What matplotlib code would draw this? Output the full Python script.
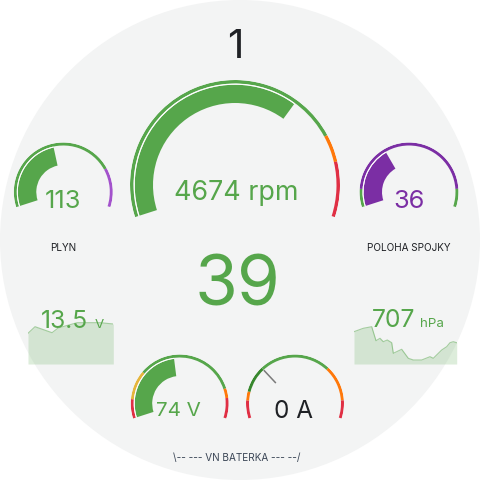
import numpy as np
import matplotlib
matplotlib.use("Agg")
import matplotlib.pyplot as plt
from matplotlib.patches import Circle

plt.rcParams['font.family'] = ['Inter', 'DejaVu Sans']

# ---------------- data ----------------
counter_value = "1"
speed_value = 39

rpm_value = 4674
rpm_min, rpm_max = 0, 7000
rpm_thresholds = [0, 5500, 6000]
rpm_colors = ['#56a64b', '#ff780a', '#e02f44']

plyn_value = 113
plyn_min, plyn_max = 0, 255
plyn_thresholds = [0, 200]
plyn_colors = ['#56a64b', '#a352cc']

spojka_value = 36
spojka_min, spojka_max = 0, 100
spojka_thresholds = [0, 10, 90]
spojka_colors = ['#56a64b', '#7b2ea4', '#56a64b']

volt_value = 74
volt_min, volt_max = 60, 90
volt_thresholds = [60, 63.2, 68.1, 85, 86.6]
volt_colors = ['#e02f44', '#e5b53b', '#56a64b', '#ff780a', '#e02f44']

amp_value = 0
amp_min, amp_max = -150, 350
amp_thresholds = [-150, -100, -75, 0, 200, 300]
amp_colors = ['#e02f44', '#ff780a', '#37872d', '#56a64b', '#ff780a', '#e02f44']

lv_value = "13.5"
lv_unit = "V"
lv_t = [0, 7, 24, 30, 49, 72, 85]
lv_v = [30.7, 37.3, 31.3, 36.0, 41.3, 41.3, 40.0]

press_value = "707"
press_unit = "hPa"
press_t = [0, 9.3, 17.7, 22, 26, 29.3, 33.3, 37.7, 39.3, 47.7, 54.3, 59.3,
           67.7, 76, 79.3, 87.7, 92.7, 96, 99.3, 102.7]
press_v = [32.3, 35.7, 37.3, 23.3, 25.7, 22.3, 24.0, 21.3, 10.7, 14.7, 5.7, 4.0,
           4.0, 7.3, 5.7, 14.0, 17.3, 21.3, 22.3, 21.3]

label_plyn = "PLYN"
label_spojka = "POLOHA SPOJKY"
label_bat = "\\-- --- VN BATERKA --- --/"

# ---------------- style ----------------
W = 480
BG = '#f3f4f4'
DARK = '#1f2125'
GREEN = '#56a64b'
START_DEG, END_DEG = 197.8, -17.8

fig = plt.figure(figsize=(4.8, 4.8), dpi=100)
fig.patch.set_facecolor('white')
base = fig.add_axes([0, 0, 1, 1])
base.set_xlim(0, W)
base.set_ylim(W, 0)
base.axis('off')
base.add_patch(Circle((240, 240), 240, facecolor=BG, edgecolor='none'))


def gauge(cx, cy, R, band_w, bar_in, bar_out, vmin, vmax, thresholds, colors,
          value, bar_color=None, needle=False):
    ax = fig.add_axes([(cx - R) / W, 1 - (cy + R) / W, 2 * R / W, 2 * R / W],
                      projection='polar')
    ax.set_ylim(0, R)
    ax.axis('off')
    ax.patch.set_visible(False)

    def th(v):
        f = (np.clip(v, vmin, vmax) - vmin) / (vmax - vmin)
        return np.deg2rad(START_DEG - f * (START_DEG - END_DEG))

    bounds = list(thresholds[1:]) + [vmax]
    for lo, hi, col in zip(thresholds, bounds, colors):
        lo = max(lo, vmin)
        hi = min(hi, vmax)
        if hi <= lo:
            continue
        ax.bar(th(hi), band_w, width=th(lo) - th(hi), bottom=R - band_w,
               align='edge', color=col, linewidth=0)
    if needle:
        t = th(value)
        ax.plot([t, t], [bar_in, bar_out], color='#7a7a7a', lw=1.1,
                solid_capstyle='butt')
    else:
        ax.bar(th(value), bar_out - bar_in, width=th(vmin) - th(value),
               bottom=bar_in, align='edge', color=bar_color, linewidth=0)
        ax.bar(th(value), 1.0, width=th(vmin) - th(value),
               bottom=bar_out, align='edge', color='white', linewidth=0)
    return ax


gauge(235, 185, 105, 3.5, 82, 100.3, rpm_min, rpm_max, rpm_thresholds,
      rpm_colors, rpm_value, bar_color=GREEN)
gauge(63.3, 192, 49.5, 3, 27, 45.5, plyn_min, plyn_max, plyn_thresholds,
      plyn_colors, plyn_value, bar_color=GREEN)
gauge(409, 192, 49.5, 3, 27, 45.5, spojka_min, spojka_max, spojka_thresholds,
      spojka_colors, spojka_value, bar_color='#7b2ea4')
gauge(179.7, 403.5, 49, 3, 27.5, 45, volt_min, volt_max, volt_thresholds,
      volt_colors, volt_value, bar_color=GREEN)
gauge(295, 403.5, 49, 3, 28, 45.6, amp_min, amp_max, amp_thresholds,
      amp_colors, amp_value, needle=True)


def spark(x0, x1, y0, y1, t, v):
    ax = fig.add_axes([x0 / W, 1 - y1 / W, (x1 - x0) / W, (y1 - y0) / W])
    ax.set_xlim(min(t), max(t))
    ax.set_ylim(0, y1 - y0)
    ax.axis('off')
    ax.patch.set_visible(False)
    ax.fill_between(t, v, 0, color=GREEN, alpha=0.2, linewidth=0)
    ax.plot(t, v, color=GREEN, alpha=0.5, lw=0.8)


spark(28, 113.3, 300, 364, lv_t, lv_v)
spark(354, 456.7, 300, 364, press_t, press_v)

# texts
base.text(235, 57.7, counter_value, ha='center', va='baseline', fontsize=29,
          color=DARK)
base.text(236.5, 200.5, f"{rpm_value} rpm", ha='center', va='baseline',
          fontsize=19.4, color=GREEN)
base.text(237.5, 305.5, f"{speed_value}", ha='center', va='baseline',
          fontsize=50, color=GREEN)
base.text(63.3, 207.5, f"{plyn_value}", ha='center', va='baseline', fontsize=18.3,
          color=GREEN)
base.text(409, 207.5, f"{spojka_value}", ha='center', va='baseline', fontsize=18.3,
          color='#7b2ea4')
base.text(178.5, 415.5, f"{volt_value} V", ha='center', va='baseline',
          fontsize=14.8, color=GREEN)
base.text(294, 418.5, f"{amp_value} A", ha='center', va='baseline',
          fontsize=17.5, color=DARK)
base.text(41, 328.5, lv_value, ha='left', va='baseline', fontsize=17.8,
          color=GREEN)
base.text(95, 328.5, lv_unit, ha='left', va='baseline', fontsize=9.6,
          color=GREEN)
base.text(372, 327, press_value, ha='left', va='baseline', fontsize=17.8,
          color=GREEN)
base.text(420, 327, press_unit, ha='left', va='baseline', fontsize=9.6,
          color=GREEN)
base.text(63.3, 251, label_plyn, ha='center', va='baseline', fontsize=7.2,
          color=DARK)
base.text(408.5, 251, label_spojka, ha='center', va='baseline', fontsize=7.2,
          color=DARK)
base.text(237, 461, label_bat, ha='center', va='baseline', fontsize=7.2,
          color='#3b4656')

fig.savefig('out.png', dpi=100, facecolor='white')
